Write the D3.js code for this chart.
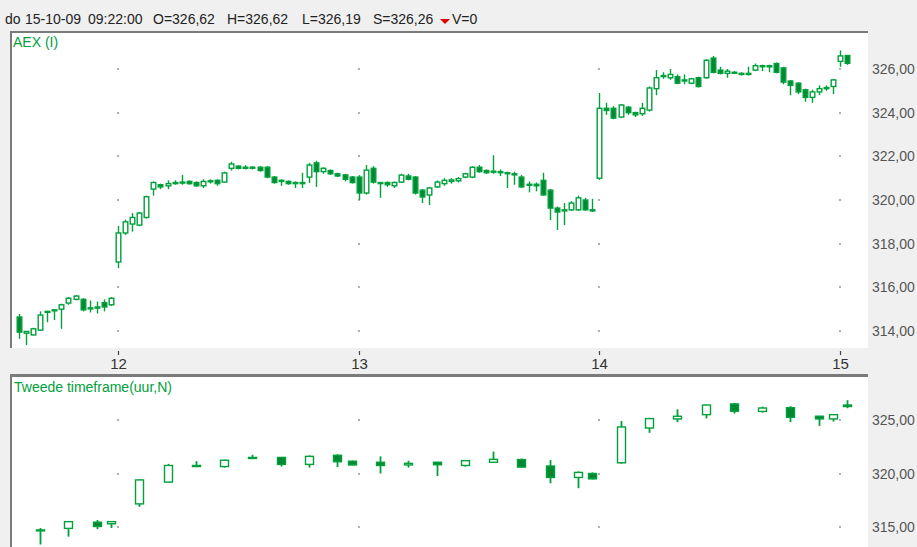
<!DOCTYPE html>
<html><head><meta charset="utf-8">
<script src="https://cdn.jsdelivr.net/npm/d3@7"></script>
<style>html,body{margin:0;padding:0;background:#f0f0f0;overflow:hidden}svg{display:block}</style>
</head><body><svg id="c" width="917" height="547"></svg>
<script>
// ---------- DATA ----------
const days = ["11", "12", "13", "14", "15"];
const firstBarTime = ["14:00", "09:00", "09:00", "09:00", "09:00"];
// 15-minute bars: [open, high, low, close]
const bars11 = [
  [314.64,314.78,313.64,313.95],[313.90,314.00,313.36,313.98],[313.82,314.15,313.80,314.10],
  [314.04,314.90,314.00,314.73],[314.87,314.92,314.40,314.90],[314.95,314.98,314.50,314.97],
  [315.00,315.25,314.10,315.20],[315.28,315.55,315.20,315.50],[315.45,315.65,315.40,315.60],
  [315.45,315.50,314.90,314.97],[315.05,315.40,314.85,315.06],[315.10,315.35,314.80,315.05],
  [315.30,315.45,314.90,315.10],[315.20,315.55,315.15,315.50]
];
const bars12 = [
  [317.16,318.81,316.88,318.49],[318.49,319.10,318.40,319.00],[318.90,319.40,318.55,319.20],
  [318.85,319.45,318.80,319.40],[319.20,320.20,319.15,320.15],[320.50,320.85,320.20,320.80],
  [320.70,320.75,320.50,320.60],[320.65,320.90,320.50,320.75],[320.75,320.90,320.70,320.80],
  [320.80,321.15,320.70,320.82],[320.85,320.90,320.70,320.75],[320.80,320.85,320.60,320.65],
  [320.65,320.95,320.55,320.85],[320.85,320.95,320.75,320.88],[320.90,320.95,320.65,320.75],
  [320.82,321.30,320.80,321.24],[321.45,321.75,321.35,321.65],[321.55,321.60,321.40,321.45],
  [321.50,321.60,321.40,321.45],[321.50,321.55,321.40,321.50],[321.50,321.55,321.30,321.35],
  [321.50,321.55,321.00,321.05],[321.05,321.10,320.75,320.80],[320.90,320.95,320.65,320.85],
  [320.85,320.90,320.70,320.75],[320.80,320.85,320.55,320.75],[320.75,321.25,320.55,320.80],
  [321.05,321.70,320.78,321.60],[321.70,321.80,320.60,321.30],[321.30,321.50,321.20,321.45],
  [321.35,321.40,321.15,321.20],[321.20,321.25,321.05,321.10],[321.15,321.20,320.85,320.95],
  [321.05,321.10,320.75,320.80]
];
const bars13 = [
  [321.05,321.14,320.00,320.32],[320.32,321.60,320.25,321.37],[321.45,321.55,320.75,320.82],
  [320.80,320.82,320.10,320.75],[320.80,320.85,320.60,320.70],[320.65,320.85,320.55,320.80],
  [320.82,321.20,320.78,321.14],[321.10,321.20,320.90,320.95],[321.05,321.10,320.25,320.32],
  [320.45,320.50,319.86,320.14],[320.23,320.60,319.77,320.55],[320.60,320.90,320.55,320.82],
  [320.75,321.00,320.65,320.90],[320.85,321.00,320.75,320.92],[320.88,321.05,320.80,320.98],
  [321.05,321.25,321.00,321.20],[321.05,321.55,321.00,321.50],[321.50,321.60,321.25,321.30],
  [321.35,321.40,321.20,321.25],[321.30,322.05,321.20,321.32],[321.30,321.40,321.10,321.25],
  [321.25,321.30,320.55,321.22],[321.20,321.30,320.70,321.15],[321.05,321.15,320.55,320.60],
  [320.70,320.85,320.35,320.72],[320.72,320.80,320.40,320.65],[320.90,321.25,320.20,320.23],
  [320.45,320.50,319.08,319.63],[319.63,319.70,318.63,319.45],[319.50,319.86,318.85,319.55],
  [319.55,319.95,319.50,319.86],[319.55,320.20,319.50,320.10],[320.00,320.10,319.50,319.55],
  [319.55,320.05,319.45,319.50]
];
const bars14 = [
  [321.00,324.90,320.92,324.20],[324.20,324.45,323.90,324.10],[324.20,324.30,323.70,323.75],
  [323.80,324.40,323.75,324.35],[324.25,324.30,323.90,324.00],[324.00,324.05,323.80,323.90],
  [323.95,324.45,323.85,324.20],[324.12,325.20,324.05,325.13],[325.10,325.95,324.80,325.60],
  [325.65,325.85,325.55,325.70],[325.60,326.00,325.50,325.75],[325.65,325.75,325.30,325.35],
  [325.50,325.75,325.30,325.45],[325.35,325.60,325.30,325.55],[325.60,325.65,325.15,325.20],
  [325.60,326.45,325.55,326.40],[326.50,326.60,325.80,325.85],[325.95,326.10,325.75,325.80],
  [325.80,326.00,325.60,325.90],[325.85,325.90,325.80,325.82],[325.80,325.85,325.70,325.75],
  [325.75,326.10,325.70,325.80],[325.95,326.25,325.90,326.15],[326.15,326.20,325.90,326.12],
  [326.15,326.20,325.85,326.10],[326.25,326.30,325.80,325.85],[326.05,326.10,325.30,325.40],
  [325.45,325.50,324.80,325.25],[325.35,325.40,324.85,324.95],[325.05,325.10,324.50,324.70],
  [324.70,325.05,324.45,324.95],[324.95,325.25,324.80,325.10],[325.10,325.25,325.00,325.15],
  [325.20,325.55,324.85,325.50]
];
const bars15 = [
  [326.35,326.85,326.10,326.60],[326.62,326.62,326.19,326.26]
];
// hourly bars (second timeframe): start times and [open, high, low, close]
const hourStarts11 = ["14:00","15:00","16:00","17:00"];
const hourly11 = [
  [314.64,314.90,313.36,314.73],[314.87,315.55,314.10,315.50],
  [315.45,315.65,314.80,315.05],[315.30,315.55,314.90,315.50]
];
const hourStarts = ["09:00","10:00","11:00","12:00","13:00","14:00","15:00","16:00","17:00"];
const hourly12 = [
  [317.16,319.45,316.88,319.40],[319.20,320.90,319.15,320.75],[320.75,321.15,320.60,320.65],
  [320.65,321.30,320.55,321.24],[321.45,321.75,321.35,321.50],[321.50,321.55,320.65,320.85],
  [320.85,321.70,320.55,321.60],[321.70,321.80,320.60,321.10],[321.15,321.20,320.75,320.80]
];
const hourly13 = [
  [321.05,321.60,320.00,320.75],[320.80,321.20,320.55,320.95],[321.05,321.10,319.77,320.82],
  [320.75,321.25,320.65,321.20],[321.05,322.05,321.00,321.32],[321.30,321.40,320.55,320.60],
  [320.70,321.25,319.08,319.63],[319.63,320.20,318.63,320.10],[320.00,320.10,319.45,319.50]
];
const hourly14 = [
  [321.00,324.90,320.92,324.35],[324.25,325.20,323.80,325.13],[325.10,326.00,324.80,325.35],
  [325.50,326.45,325.15,326.40],[326.50,326.60,325.60,325.82],[325.80,326.25,325.70,326.12],
  [326.15,326.30,324.80,325.25],[325.35,325.40,324.45,325.10],[325.10,325.55,324.85,325.50]
];
const hourStarts15 = ["09:00"];
const hourly15 = [[326.40,326.85,326.10,326.26]];

const xTickLabels = ["12","13","14","15"];
const yTicksTop = [314,316,318,320,322,324,326];
const yTicksBottom = [315,320,325];
const headerParts = ["do","15-10-09","09:22:00","O=326,62","H=326,62","L=326,19","S=326,26","V=0"];
const topTitle = "AEX (I)";
const bottomTitle = "Tweede timeframe(uur,N)";

// ---------- DRAWING ----------
const svg = d3.select("#c");
const GREEN = "#00a03c", GREEN_FILL = "#008832";
const FONT = "'Liberation Sans', Arial, sans-serif";
const SLOTS = 34;
function slotOf(d, t){ const [h,m] = t.split(":").map(Number); return d*SLOTS + ((h-9)*60+m)/15; }

const x = d3.scaleLinear().domain([slotOf(1,"09:00"), slotOf(4,"09:00")]).range([118, 840]);
const yTop = d3.scaleLinear().domain([314, 326]).range([331, 69]);
const yBot = d3.scaleLinear().domain([315, 325]).range([527, 420]);

svg.append("rect").attr("width",917).attr("height",547).attr("fill","#f0f0f0");

// panels
const P = {x0:10, x1:868};
svg.append("rect").attr("x",P.x0).attr("y",32).attr("width",P.x1-P.x0).attr("height",316).attr("fill","#fff");
svg.append("rect").attr("x",P.x0).attr("y",374).attr("width",P.x1-P.x0).attr("height",173).attr("fill","#fff");
function border(y0,y1,tw){
  svg.append("line").attr("x1",P.x0).attr("x2",P.x1).attr("y1",y0+tw/2).attr("y2",y0+tw/2).attr("stroke","#7a7a7a").attr("stroke-width",tw);
  svg.append("line").attr("x1",P.x0+1).attr("x2",P.x0+1).attr("y1",y0).attr("y2",y1).attr("stroke","#7a7a7a").attr("stroke-width",2);
}
border(31,348,2);
border(374,547,3);

const defs = svg.append("defs");
defs.append("clipPath").attr("id","clipTop").append("rect").attr("x",12).attr("y",34).attr("width",P.x1-12).attr("height",313);
defs.append("clipPath").attr("id","clipBot").append("rect").attr("x",12).attr("y",377).attr("width",P.x1-12).attr("height",170);

const fmt = v => d3.format(".2f")(v).replace(".", ",");
const dayTickSlots = xTickLabels.map((l,i)=>slotOf(days.indexOf(l),"09:00"));

// grid dots
function dots(yScale, ticks){
  dayTickSlots.forEach(s => ticks.forEach(t => {
    svg.append("rect").attr("x",Math.round(x(s))-1).attr("y",Math.round(yScale(t))-1)
      .attr("width",2).attr("height",2).attr("fill","#b0b0b0");
  }));
}
dots(yTop, yTicksTop);
dots(yBot, yTicksBottom);

// y axis labels
yTicksTop.forEach(t => svg.append("text").attr("x",872).attr("y",yTop(t)).attr("dy","0.36em")
  .attr("font-family",FONT).attr("font-size",14).attr("fill","#555").text(fmt(t)));
yTicksBottom.forEach(t => svg.append("text").attr("x",872).attr("y",yBot(t)).attr("dy","0.36em")
  .attr("font-family",FONT).attr("font-size",14).attr("fill","#555").text(fmt(t)));

// x axis
dayTickSlots.forEach((s,i) => {
  const xx = Math.round(x(s)) + 0.5;
  svg.append("line").attr("x1",xx).attr("x2",xx).attr("y1",351).attr("y2",355).attr("stroke","#444").attr("stroke-width",1.2);
  svg.append("text").attr("x",xx).attr("y",369).attr("text-anchor","middle")
    .attr("font-family",FONT).attr("font-size",15).attr("fill","#333").text(xTickLabels[i]);
});

// candles
function candles(g, list, yScale, bw, ww){
  list.forEach(([s,[o,h,l,c]]) => {
    const cx = Math.round(x(s)) + 0.5;
    g.append("line").attr("x1",cx).attr("x2",cx).attr("y1",yScale(h)).attr("y2",yScale(l))
      .attr("stroke",GREEN).attr("stroke-width",ww);
    const top = yScale(Math.max(o,c)), bot = yScale(Math.min(o,c));
    const up = c >= o;
    g.append("rect").attr("x",cx-bw/2).attr("y",top).attr("width",bw).attr("height",Math.max(bot-top,1))
      .attr("fill", up ? "#fff" : GREEN_FILL).attr("stroke",GREEN).attr("stroke-width",1.4);
  });
}
const allBars = [bars11,bars12,bars13,bars14,bars15];
const topList = [];
allBars.forEach((bars,d) => {
  const s0 = slotOf(d, firstBarTime[d]);
  bars.forEach((b,i) => topList.push([s0+i, b]));
});
const gTop = svg.append("g").attr("clip-path","url(#clipTop)");
candles(gTop, topList, yTop, 4.6, 1.4);

const hourSets = [[hourStarts11,hourly11],[hourStarts,hourly12],[hourStarts,hourly13],[hourStarts,hourly14],[hourStarts15,hourly15]];
const botList = [];
hourSets.forEach(([starts,vals],d) => {
  const lastSlot = slotOf(d, firstBarTime[d]) + allBars[d].length - 1;
  starts.forEach((t,i) => botList.push([Math.min(slotOf(d,t)+3, lastSlot), vals[i]]));
});
const gBot = svg.append("g").attr("clip-path","url(#clipBot)");
candles(gBot, botList, yBot, 8, 1.8);

// titles
svg.append("text").attr("x",13).attr("y",47).attr("font-family",FONT).attr("font-size",14).attr("fill","#00a03c").text(topTitle);
svg.append("text").attr("x",14).attr("y",392).attr("font-family",FONT).attr("font-size",14).attr("fill","#00a03c").text(bottomTitle);

// header
const hx = [5,25,88,153,227,302,373,452];
headerParts.forEach((p,i) => svg.append("text").attr("x",hx[i]).attr("y",24)
  .attr("font-family",FONT).attr("font-size",14).attr("fill","#222").text(p));
svg.append("path").attr("d","M440,19L450,19L445,24Z").attr("fill","#e00000");
</script></body></html>
